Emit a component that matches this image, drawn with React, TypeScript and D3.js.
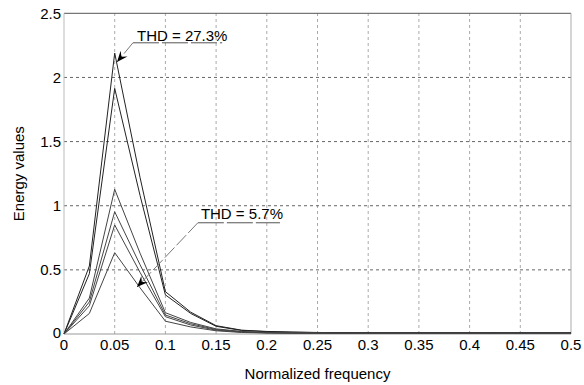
import React from "react";
import * as d3 from "d3";

const frequencies = [0, 0.025, 0.05, 0.075, 0.1, 0.125, 0.15, 0.175, 0.2, 0.225, 0.25, 0.275, 0.3, 0.325, 0.35, 0.375, 0.4, 0.425, 0.45, 0.475, 0.5];

const series1 = [0, 0.53, 2.19, 1.22, 0.33, 0.17, 0.065, 0.03, 0.02, 0.015, 0.012, 0.01, 0.01, 0.01, 0.01, 0.01, 0.01, 0.01, 0.01, 0.01, 0.01];
const series2 = [0, 0.47, 1.915, 1.08, 0.305, 0.16, 0.06, 0.028, 0.018, 0.014, 0.011, 0.01, 0.009, 0.009, 0.009, 0.009, 0.009, 0.009, 0.009, 0.009, 0.009];
const series3 = [0, 0.28, 1.128, 0.63, 0.166, 0.09, 0.04, 0.02, 0.012, 0.01, 0.008, 0.007, 0.007, 0.007, 0.007, 0.007, 0.007, 0.007, 0.007, 0.007, 0.007];
const series4 = [0, 0.25, 0.953, 0.54, 0.148, 0.08, 0.035, 0.018, 0.01, 0.008, 0.007, 0.006, 0.006, 0.006, 0.006, 0.006, 0.006, 0.006, 0.006, 0.006, 0.006];
const series5 = [0, 0.22, 0.85, 0.48, 0.135, 0.07, 0.03, 0.015, 0.009, 0.007, 0.006, 0.005, 0.005, 0.005, 0.005, 0.005, 0.005, 0.005, 0.005, 0.005, 0.005];
const series6 = [0, 0.16, 0.634, 0.36, 0.1, 0.055, 0.025, 0.012, 0.008, 0.006, 0.005, 0.004, 0.004, 0.004, 0.004, 0.004, 0.004, 0.004, 0.004, 0.004, 0.004];
const allSeries = [series1, series2, series3, series4, series5, series6];

const xTicks = [0, 0.05, 0.1, 0.15, 0.2, 0.25, 0.3, 0.35, 0.4, 0.45, 0.5];
const xTickLabels = ["0", "0.05", "0.1", "0.15", "0.2", "0.25", "0.3", "0.35", "0.4", "0.45", "0.5"];
const yTicks = [0, 0.5, 1, 1.5, 2, 2.5];
const yTickLabels = ["0", "0.5", "1", "1.5", "2", "2.5"];

const annotations = [
  { text: "THD = 27.3%", textX: 0.072, textY: 2.33, lineX0: 0.068, lineX1: 0.156, lineY: 2.27, tipX: 0.0523, tipY: 2.12 },
  { text: "THD = 5.7%", textX: 0.135, textY: 0.943, lineX0: 0.132, lineX1: 0.213, lineY: 0.867, tipX: 0.072, tipY: 0.366 },
];

const W = 584, H = 385;
const L = 64, R = 571, T = 13.3, B = 334;
const FONT = "'Liberation Sans', Arial, Helvetica, sans-serif";

export default function App() {
  const x = d3.scaleLinear().domain([0, 0.5]).range([L, R]);
  const y = d3.scaleLinear().domain([0, 2.5]).range([B, T]);
  const line = d3.line<number>().x((_, i) => x(frequencies[i])).y((d) => y(d));

  const arrowHead = (tx: number, ty: number, fx: number, fy: number) => {
    const ang = Math.atan2(ty - fy, tx - fx);
    const len = 11, half = 4.5, notch = 7;
    const pt = (a: number, b: number) => {
      const c = Math.cos(ang), s = Math.sin(ang);
      return [tx - a * c - b * s, ty - a * s + b * c];
    };
    const p1 = pt(len, half), p2 = pt(notch, 0), p3 = pt(len, -half);
    return `M${tx},${ty}L${p1[0]},${p1[1]}L${p2[0]},${p2[1]}L${p3[0]},${p3[1]}Z`;
  };

  return (
    <svg width={W} height={H} style={{ position: "absolute", left: 0, top: 0, background: "#fff" }}>
      <rect x={0} y={0} width={W} height={H} fill="#fff" />
      {xTicks.slice(1, -1).map((t) => (
        <line key={"gx" + t} x1={x(t)} x2={x(t)} y1={B} y2={T} stroke="#aaa" strokeWidth={1} strokeDasharray="3,3" />
      ))}
      {yTicks.slice(1, -1).map((t) => (
        <line key={"gy" + t} x1={L} x2={R} y1={y(t)} y2={y(t)} stroke="#666" strokeWidth={1} strokeDasharray="3,3" />
      ))}
      <line x1={L} x2={R} y1={T} y2={T} stroke="#555" strokeWidth={1} />
      <line x1={R} x2={R} y1={T} y2={B} stroke="#aaa" strokeWidth={1} />
      <line x1={L} x2={L} y1={T} y2={B} stroke="#bbb" strokeWidth={1} />
      <line x1={L} x2={R} y1={B} y2={B} stroke="#999" strokeWidth={1} />
      {allSeries.map((s, i) => (
        <path key={"s" + i} d={line(s) || ""} fill="none" stroke={i < 2 ? "#222" : "#444"} strokeWidth={1} strokeLinejoin="round" />
      ))}
      {xTicks.map((t, i) => (
        <text key={"xl" + t} x={x(t)} y={B + 16} textAnchor="middle" fontFamily={FONT} fontSize={15} fill="#000">{xTickLabels[i]}</text>
      ))}
      {yTicks.map((t, i) => (
        <text key={"yl" + t} x={L - 3} y={y(t) + (t === 0 ? 4 : 5.5)} textAnchor="end" fontFamily={FONT} fontSize={15} fill="#000">{yTickLabels[i]}</text>
      ))}
      <text x={(L + R) / 2} y={379} textAnchor="middle" fontFamily={FONT} fontSize={15} fill="#000">Normalized frequency</text>
      <text transform={`translate(23.5,${(T + B) / 2}) rotate(-90)`} textAnchor="middle" fontFamily={FONT} fontSize={15} fill="#000">Energy values</text>
      {annotations.map((a, i) => {
        const lx = x(a.lineX0), ly = y(a.lineY), tx = x(a.tipX), ty = y(a.tipY);
        return (
          <g key={"a" + i}>
            <text x={x(a.textX)} y={y(a.textY) + 5.5} fontFamily={FONT} fontSize={15} fill="#000">{a.text}</text>
            <line x1={lx} x2={x(a.lineX1)} y1={ly} y2={ly} stroke="#555" strokeWidth={1} strokeDasharray="26,3" />
            <line x1={lx} y1={ly} x2={tx} y2={ty} stroke="#777" strokeWidth={1} strokeDasharray="14,3" />
            <path d={arrowHead(tx, ty, lx, ly)} fill="#000" />
          </g>
        );
      })}
    </svg>
  );
}
